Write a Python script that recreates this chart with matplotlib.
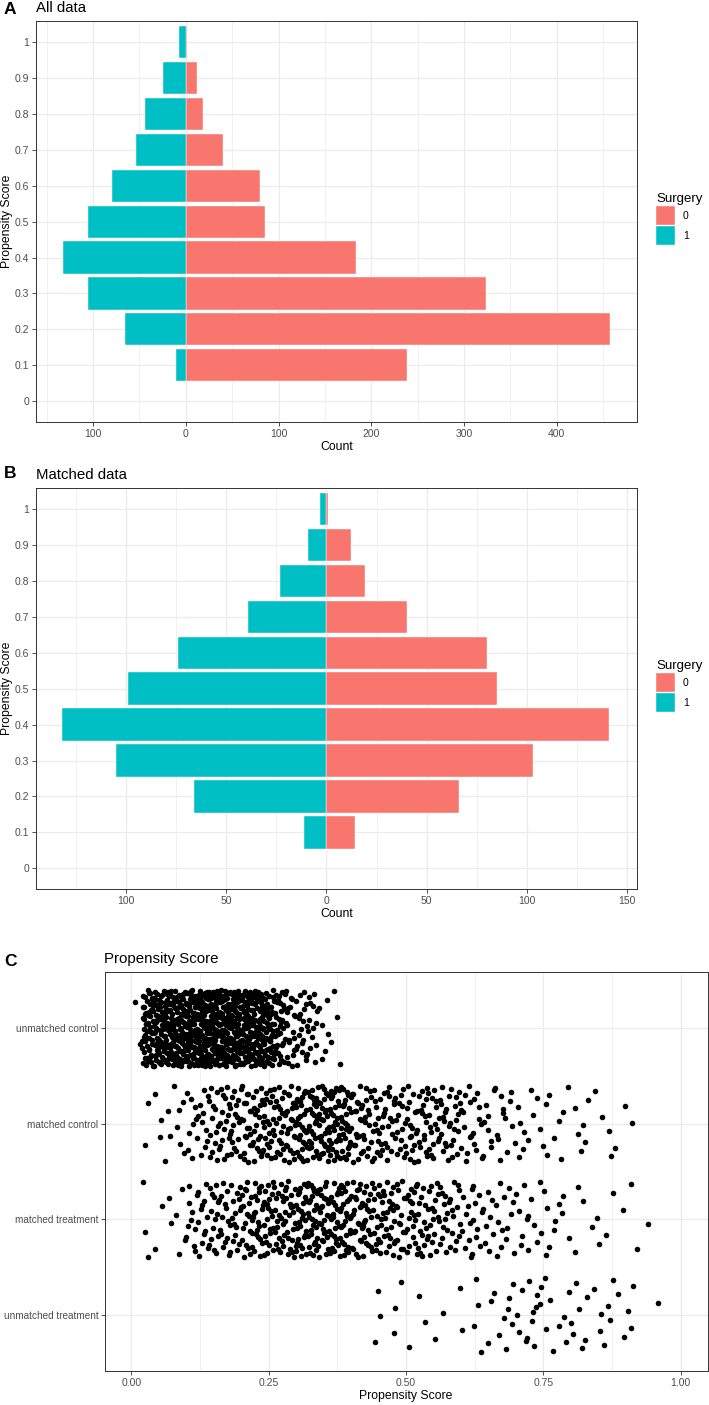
import matplotlib
matplotlib.use("Agg")
import matplotlib.pyplot as plt
from matplotlib.patches import Patch
from matplotlib.ticker import MultipleLocator, FuncFormatter
import numpy as np

plt.rcParams['font.family'] = ['Liberation Sans', 'DejaVu Sans']

# upper edge of each 0.1 propensity score bin
score_bins = [0.1, 0.2, 0.3, 0.4, 0.5, 0.6, 0.7, 0.8, 0.9, 1.0]

# panel A - all data, counts per bin
all_surgery0 = [238, 457, 324, 183, 85, 80, 40, 19, 12, 1]
all_surgery1 = [11, 66, 105, 132, 105, 80, 54, 44, 25, 7]

# panel B - matched data
matched_surgery0 = [14, 66, 103, 141, 85, 80, 40, 19, 12, 1]
matched_surgery1 = [11, 66, 105, 132, 99, 74, 39, 23, 9, 3]

# panel C - number of points in each 0.02 wide score bin (0.00-0.02, 0.02-0.04, ...)
groups = ['unmatched treatment', 'matched treatment', 'matched control', 'unmatched control']
unmatched_control = [2, 50, 55, 57, 60, 78, 80, 79, 78, 76,
                     62, 58, 48, 33, 20, 18, 14, 6, 4, 0,
                     0, 0, 0, 0, 0, 0, 0, 0, 0, 0,
                     0, 0, 0, 0, 0, 0, 0, 0, 0, 0,
                     0, 0, 0, 0, 0, 0, 0, 0, 0, 0]
matched_control = [0, 2, 3, 4, 5, 8, 11, 14, 16, 17,
                   19, 20, 21, 21, 22, 27, 28, 29, 29, 28,
                   19, 18, 17, 16, 15, 17, 17, 16, 15, 15,
                   10, 9, 8, 7, 6, 5, 4, 4, 3, 3,
                   3, 3, 2, 2, 2, 1, 0, 0, 0, 0]
matched_treatment = [0, 3, 2, 2, 4, 10, 12, 14, 15, 15,
                     20, 21, 21, 22, 21, 27, 27, 26, 26, 26,
                     22, 21, 20, 19, 17, 17, 16, 15, 14, 12,
                     9, 9, 8, 7, 6, 6, 5, 5, 4, 3,
                     2, 2, 2, 2, 1, 2, 0, 1, 0, 0]
unmatched_treatment = [0, 0, 0, 0, 0, 0, 0, 0, 0, 0,
                       0, 0, 0, 0, 0, 0, 0, 0, 0, 0,
                       0, 0, 3, 1, 2, 1, 2, 1, 1, 1,
                       1, 4, 2, 3, 5, 4, 7, 4, 3, 3,
                       5, 2, 3, 4, 2, 3, 0, 1, 0, 0]
point_bins = [unmatched_treatment, matched_treatment, matched_control, unmatched_control]
bin_width = 0.02

red = '#F8766D'
cyan = '#00BFC4'
grid_col = '#EBEBEB'
frame_col = '#333333'
tick_col = '#4D4D4D'


def radical_inverse(n, base):
    # van der Corput value, used as an even (non random) jitter
    v, f = 0.0, 1.0 / base
    while n > 0:
        v += f * (n % base)
        n //= base
        f /= base
    return v


def style_axes(ax):
    for s in ax.spines.values():
        s.set_color(frame_col)
        s.set_linewidth(0.7)
    ax.tick_params(which='major', length=3, width=0.6, color=frame_col,
                   labelcolor=tick_col, labelsize=7.5, pad=2)
    ax.tick_params(which='minor', length=0)
    ax.grid(which='major', color=grid_col, lw=0.9)
    ax.grid(which='minor', axis='x', color=grid_col, lw=0.5)
    ax.set_axisbelow(True)


def pyramid(ax, left_vals, right_vals, major, xlim, title, letter, letter_y, legend_top):
    ax.barh(score_bins, right_vals, height=0.09, color=red, edgecolor='white', lw=0.3)
    ax.barh(score_bins, np.negative(left_vals), height=0.09, color=cyan, edgecolor='white', lw=0.3)
    ax.set_xlim(*xlim)
    ax.set_ylim(-0.0585, 1.0594)
    ax.xaxis.set_major_locator(MultipleLocator(major))
    ax.xaxis.set_minor_locator(MultipleLocator(major / 2))
    ax.xaxis.set_major_formatter(FuncFormatter(lambda v, p: f"{abs(v):g}"))
    ax.set_yticks(np.round(np.arange(0, 1.01, 0.1), 1))
    ax.yaxis.set_major_formatter(FuncFormatter(lambda v, p: f"{v:g}"))
    style_axes(ax)
    ax.set_xlabel('Count', fontsize=8.8, labelpad=1.5)
    ax.set_ylabel('Propensity Score', fontsize=8.8)
    ax.yaxis.set_label_coords(-0.039, 0.5)
    ax.set_title(title, loc='left', fontsize=10.8, pad=6.5)
    fig.text(4 / 709, letter_y, letter, fontsize=12.5, fontweight='bold', va='center')
    ax.legend(handles=[Patch(facecolor=red, edgecolor='white', lw=0.3),
                       Patch(facecolor=cyan, edgecolor='white', lw=0.3)],
              labels=['0', '1'], title='Surgery', loc='upper left',
              bbox_to_anchor=(656 / 709, 1 - legend_top / 1405),
              bbox_transform=fig.transFigure, frameon=False, fontsize=7.5,
              title_fontsize=9.5, handlelength=1.8, handleheight=2.4,
              labelspacing=0.12, handletextpad=0.8, borderpad=0,
              borderaxespad=0, alignment='left')


fig = plt.figure(figsize=(7.09, 14.05), dpi=100)

axA = fig.add_axes([36 / 709, 1 - 422 / 1405, 601 / 709, 401 / 1405])
pyramid(axA, all_surgery1, all_surgery0, 100, (-161.5, 486.5), 'All data', 'A', 1 - 10 / 1405, 193)

axB = fig.add_axes([36 / 709, 1 - 889.3 / 1405, 601 / 709, 401.6 / 1405])
pyramid(axB, matched_surgery1, matched_surgery0, 50, (-145, 155), 'Matched data', 'B', 1 - 473 / 1405, 660)

# panel C - jittered points, even jitter inside each score bin
axC = fig.add_axes([104.5 / 709, 1 - 1371 / 1405, 603 / 709, 399 / 1405])
m = 11
for gi, counts in enumerate(point_bins):
    xs, ys = [], []
    for k, n in enumerate(counts):
        for j in range(n):
            m += 1
            xs.append(k * bin_width + bin_width * radical_inverse(m, 2))
            ys.append(gi + 1 + 0.4 * (2 * radical_inverse(m, 3) - 1))
    axC.scatter(xs, ys, s=16, color='black', linewidths=0)
axC.set_xlim(-0.0486, 1.049)
axC.set_ylim(0.41, 4.59)
axC.xaxis.set_major_locator(MultipleLocator(0.25))
axC.xaxis.set_minor_locator(MultipleLocator(0.125))
axC.xaxis.set_major_formatter(FuncFormatter(lambda v, p: f"{v:.2f}"))
axC.set_yticks([1, 2, 3, 4])
axC.set_yticklabels(groups)
style_axes(axC)
axC.tick_params(axis='y', labelsize=7.2, pad=1.5)
axC.set_xlabel('Propensity Score', fontsize=8.8, labelpad=1.5)
axC.set_title('Propensity Score', loc='left', fontsize=10.8, pad=6.5)
fig.text(4 / 709, 1 - 961 / 1405, 'C', fontsize=12.5, fontweight='bold', va='center')

fig.savefig('out.png', dpi=100)
